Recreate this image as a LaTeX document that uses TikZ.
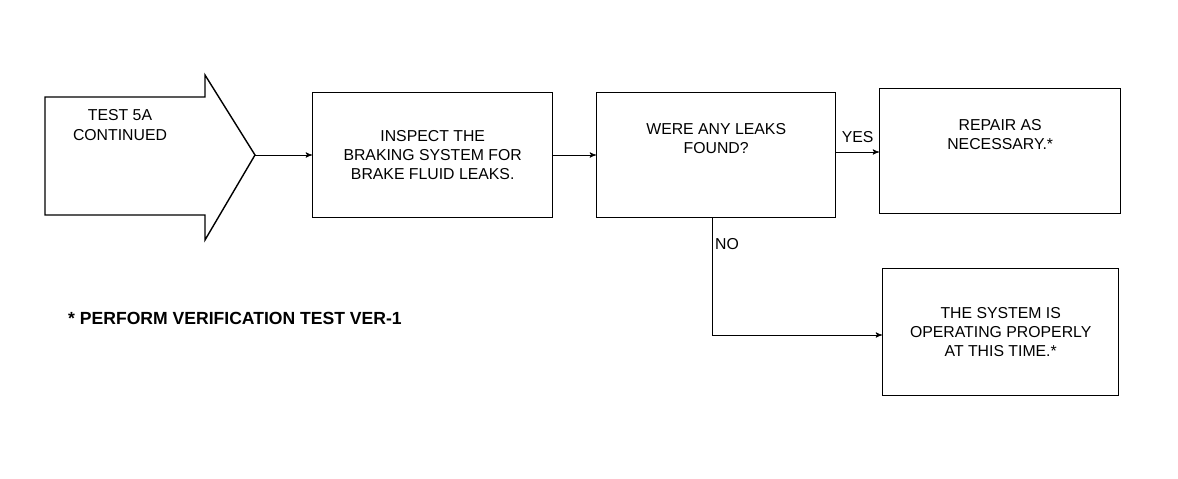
\documentclass[tikz,border=0pt]{standalone}
\usepackage{fontspec}
\setmainfont{Liberation Sans}
\usetikzlibrary{arrows}
\begin{document}
\begin{tikzpicture}[x=0.02cm,y=-0.02cm,>=stealth',
	stepbox/.style={draw,thick,font=\small,align=center,anchor=north west,inner sep=0pt}]

	\useasboundingbox (0,0) rectangle (1178,478);

	% entry arrow
	\draw[thick] (45,97) -- (205,97) -- (205,75) -- (255,155) -- (205,240) -- (205,215) -- (45,215) -- cycle;
	\coordinate (tip) at (255,155);
	\node[font=\small,align=center] (entry) at (120,125) {TEST 5A\\CONTINUED};

	\node[stepbox,minimum width=240*0.02cm,minimum height=125*0.02cm] (inspect) at (312,92) {INSPECT THE\\BRAKING SYSTEM FOR\\BRAKE FLUID LEAKS.};
	\node[stepbox,minimum width=239*0.02cm,minimum height=125*0.02cm] (leaks) at (596,92) {WERE ANY LEAKS\\FOUND?\\[0.9em]};
	\node[stepbox,minimum width=241*0.02cm,minimum height=125*0.02cm] (repair) at (879,88) {REPAIR AS\\NECESSARY.*\\[0.9em]};
	\node[stepbox,minimum width=236*0.02cm,minimum height=127*0.02cm] (ok) at (882,268) {THE SYSTEM IS\\OPERATING PROPERLY\\AT THIS TIME.*};

	\draw[->] (tip) -- (inspect.west |- tip);
	\draw[->] (inspect.east |- tip) -- (leaks.west |- tip);
	\draw[->] (leaks.east |- 0,152) -- (repair.west |- 0,152) node[pos=0.5,above=2pt,font=\small] {YES};
	\draw[->] (leaks.south -| 712,0) -- (712,335) -- (ok.west |- 0,335);
	\node[font=\small] (no) at (727,244) {NO};

	\node[font=\bfseries,anchor=west] (note) at (62,318) {* PERFORM VERIFICATION TEST VER-1};

\end{tikzpicture}
\end{document}
